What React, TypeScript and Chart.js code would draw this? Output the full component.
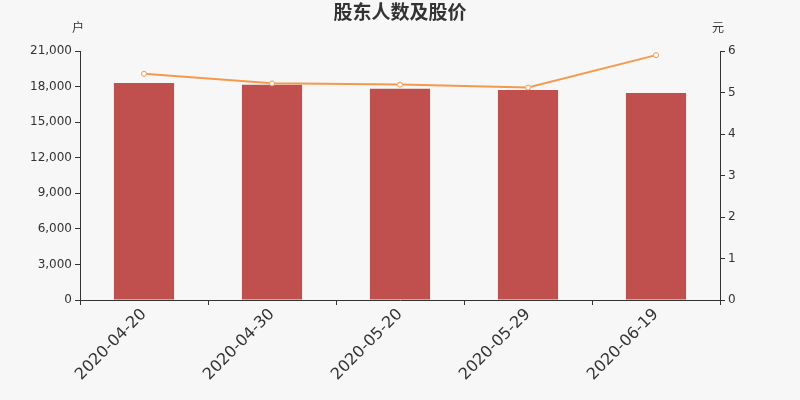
import { useEffect, useRef } from "react";
import Chart, { ChartConfiguration } from "chart.js/auto";

const dates = ["2020-04-20", "2020-04-30", "2020-05-20", "2020-05-29", "2020-06-19"];
const holders = [18300, 18150, 17820, 17710, 17460];
const prices = [5.45, 5.22, 5.19, 5.12, 5.9];

const FONT = "'DejaVu Sans', 'Noto Sans CJK SC', sans-serif";
const TEXT = "#333333";

const App = () => {
  const chartRef = useRef<HTMLCanvasElement | null>(null);
  const chartInstanceRef = useRef<Chart | null>(null);

  useEffect(() => {
    if (chartInstanceRef.current) {
      chartInstanceRef.current.destroy();
    }
    const ctx = chartRef.current?.getContext("2d");
    if (!ctx) return;

    // title + axis unit labels, drawn on the canvas
    const labelsPlugin = {
      id: "labels",
      beforeDraw(chart: Chart) {
        const c = chart.ctx;
        c.save();
        c.fillStyle = "#f7f7f7";
        c.fillRect(0, 0, chart.width, chart.height);
        c.restore();
      },
      afterDraw(chart: Chart) {
        const c = chart.ctx;
        const area = chart.chartArea;
        c.save();
        c.fillStyle = TEXT;
        c.textAlign = "center";
        c.textBaseline = "middle";
        c.font = `bold 19px ${FONT}`;
        c.fillText("股东人数及股价", chart.width / 2, 14);
        c.font = `12px ${FONT}`;
        c.fillText("户", area.left - 2, 29);
        c.fillText("元", area.right - 2, 29);
        c.restore();
      },
    };

    chartInstanceRef.current = new Chart(ctx, {
      type: "bar",
      data: {
        labels: dates,
        datasets: [
          {
            type: "line",
            label: "股价",
            data: prices,
            yAxisID: "y1",
            borderColor: "#f5994c",
            borderWidth: 2,
            pointRadius: 2.5,
            pointBackgroundColor: "#ffffff",
            pointBorderColor: "#f5994c",
            pointBorderWidth: 1,
            order: 0,
          },
          {
            type: "bar",
            label: "股东人数",
            data: holders,
            yAxisID: "y",
            backgroundColor: "#c0504d",
            barPercentage: 0.94,
            categoryPercentage: 0.5,
            order: 1,
          },
        ],
      },
      options: {
        animation: false,
        responsive: false,
        layout: { padding: { top: 51, left: 0, right: 0, bottom: 0 } },
        plugins: {
          legend: { display: false },
          tooltip: { enabled: false },
        },
        scales: {
          x: {
            offset: true,
            grid: {
              offset: true,
              drawOnChartArea: false,
              drawTicks: true,
              tickLength: 5,
              color: TEXT,
            },
            border: { color: TEXT },
            ticks: {
              color: TEXT,
              font: { family: FONT, size: 16 },
              maxRotation: 45,
              minRotation: 45,
              padding: 0,
            },
            afterFit(scale: any) {
              scale.height = 100;
            },
          },
          y: {
            position: "left",
            min: 0,
            max: 21000,
            grid: { drawOnChartArea: false, tickLength: 5, color: TEXT },
            border: { color: TEXT },
            ticks: {
              stepSize: 3000,
              color: TEXT,
              font: { family: FONT, size: 12 },
              padding: 3,
            },
            afterFit(scale: any) {
              scale.width = 80;
            },
          },
          y1: {
            position: "right",
            min: 0,
            max: 6,
            grid: { drawOnChartArea: false, tickLength: 5, color: TEXT },
            border: { color: TEXT },
            ticks: {
              stepSize: 1,
              color: TEXT,
              font: { family: FONT, size: 12 },
              padding: 3,
            },
            afterFit(scale: any) {
              scale.width = 80;
            },
          },
        },
      },
      plugins: [labelsPlugin],
    } as ChartConfiguration);

    return () => {
      if (chartInstanceRef.current) {
        chartInstanceRef.current.destroy();
        chartInstanceRef.current = null;
      }
    };
  }, []);

  return (
    <div style={{ position: "fixed", left: 0, top: 0, width: 800, height: 400, background: "#f7f7f7" }}>
      <canvas ref={chartRef} width={800} height={400} style={{ width: 800, height: 400 }} />
    </div>
  );
};

export default App;
